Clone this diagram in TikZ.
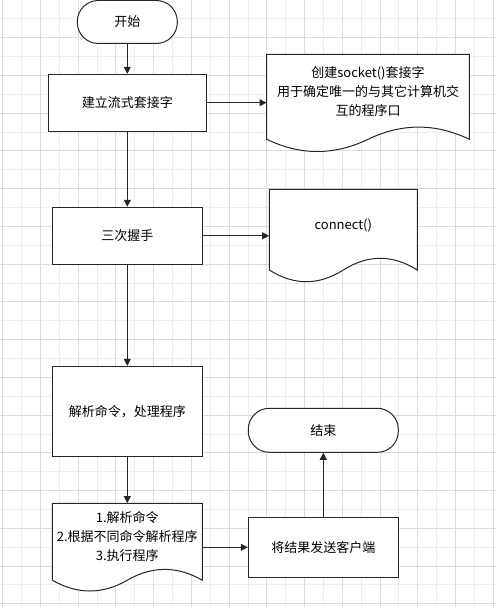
\documentclass[tikz,border=0pt]{standalone}
\usepackage{fontspec}
\setmainfont{Noto Sans CJK SC}
\usetikzlibrary{arrows.meta}
\definecolor{gridlo}{HTML}{EDEDED}
\definecolor{gridhi}{HTML}{DCDCDC}
\definecolor{ink}{HTML}{262626}
% document outline: centre x, centre y, half width, top, wave base, swing
\newcommand\docwave[6]{%
  \draw[docline, shift={(#1,#2)}] (-#3,#4) -- (#3,#4) -- (#3,#5)
    .. controls ({2*#3/3},{#5-4*#6/3}) and ({#3/3},{#5-4*#6/3}) .. (0,#5)
    .. controls ({-#3/3},{#5+4*#6/3}) and ({-2*#3/3},{#5+4*#6/3}) .. (-#3,#5) -- cycle;}

\begin{document}
\begin{tikzpicture}[x=1pt,y=-1pt,font=\fontsize{13}{19}\selectfont]
  \tikzstyle{term}    = [draw=ink,fill=white,line width=1pt,rounded corners=21pt,inner sep=0pt]
  \tikzstyle{proc}    = [draw=ink,fill=white,line width=1pt,inner sep=0pt,minimum width=150pt]
  \tikzstyle{doc}     = [inner sep=0pt,align=center]
  \tikzstyle{docline} = [draw=ink,fill=white,line width=1pt]
  \tikzstyle{flow}    = [draw=ink,line width=1pt,-{Triangle[length=7pt,width=7pt]}]
  \useasboundingbox (0,0) rectangle (496,607);
  % background grid
  \foreach \k in {0,...,26} \draw[gridlo,line width=1pt] ({2.7+18.87*\k},0) -- ({2.7+18.87*\k},607);
  \foreach \k in {0,...,32} \draw[gridlo,line width=1pt] (0,{18.87*\k}) -- (496,{18.87*\k});
  \foreach \k in {0,2,...,26} \draw[gridhi,line width=1pt] ({2.7+18.87*\k},0) -- ({2.7+18.87*\k},607);
  \foreach \k in {0,2,...,32} \draw[gridhi,line width=1pt] (0,{18.87*\k}) -- (496,{18.87*\k});
  % document outlines
  \docwave{368.0}{91.2}{101.3}{-36.9}{48.1}{12.2}
  \docwave{343.3}{225.7}{74}{-36.4}{44.3}{11.7}
  \docwave{127.3}{536.7}{75}{-33.4}{43.5}{10.8}
  % main column
  \path (127.3, 22.0) node[term,minimum width=100pt,minimum height=43pt](t0) {开始};
  \path (127.3,102.7) node[proc,minimum width=158pt,minimum height=56.7pt](p0) {建立流式套接字};
  \path (127.3,235.8) node[proc,minimum height=57pt](p1) {三次握手};
  \path (127.3,411.2) node[proc,minimum height=89.7pt](p2) {解析命令，处理程序};
  \path (127.3,536.7) node[doc,minimum width=150pt,minimum height=66.8pt](d2) {1.解析命令\\2.根据不同命令解析程序\\3.执行程序};
  % right column
  \path (368.0, 91.2) node[doc,minimum width=202.6pt,minimum height=73.8pt](d0) {创建socket()套接字\\用于确定唯一的与其它计算机交\\互的程序口};
  \path (343.3,225.7) node[doc,minimum width=148pt,minimum height=72.8pt](d1) {connect()};
  \path (323.3,547.3) node[proc,minimum height=60pt](p3) {将结果发送客户端};
  \path (323.3,430.3) node[term,minimum width=150pt,minimum height=44pt](t1) {结束};
  % connectors
  \draw[flow] (t0.south) -- (p0.north);
  \draw[flow] (p0.east)  -- (p0.east -| d0.west);
  \draw[flow] (p0.south) -- (p1.north);
  \draw[flow] (p1.east)  -- (p1.east -| d1.west);
  \draw[flow] (p1.south) -- (p2.north);
  \draw[flow] (p2.south) -- (d2.north);
  \draw[flow] (d2.east |- p3.west) -- (p3.west);
  \draw[flow] (p3.north) -- (t1.south);
\end{tikzpicture}
\end{document}
